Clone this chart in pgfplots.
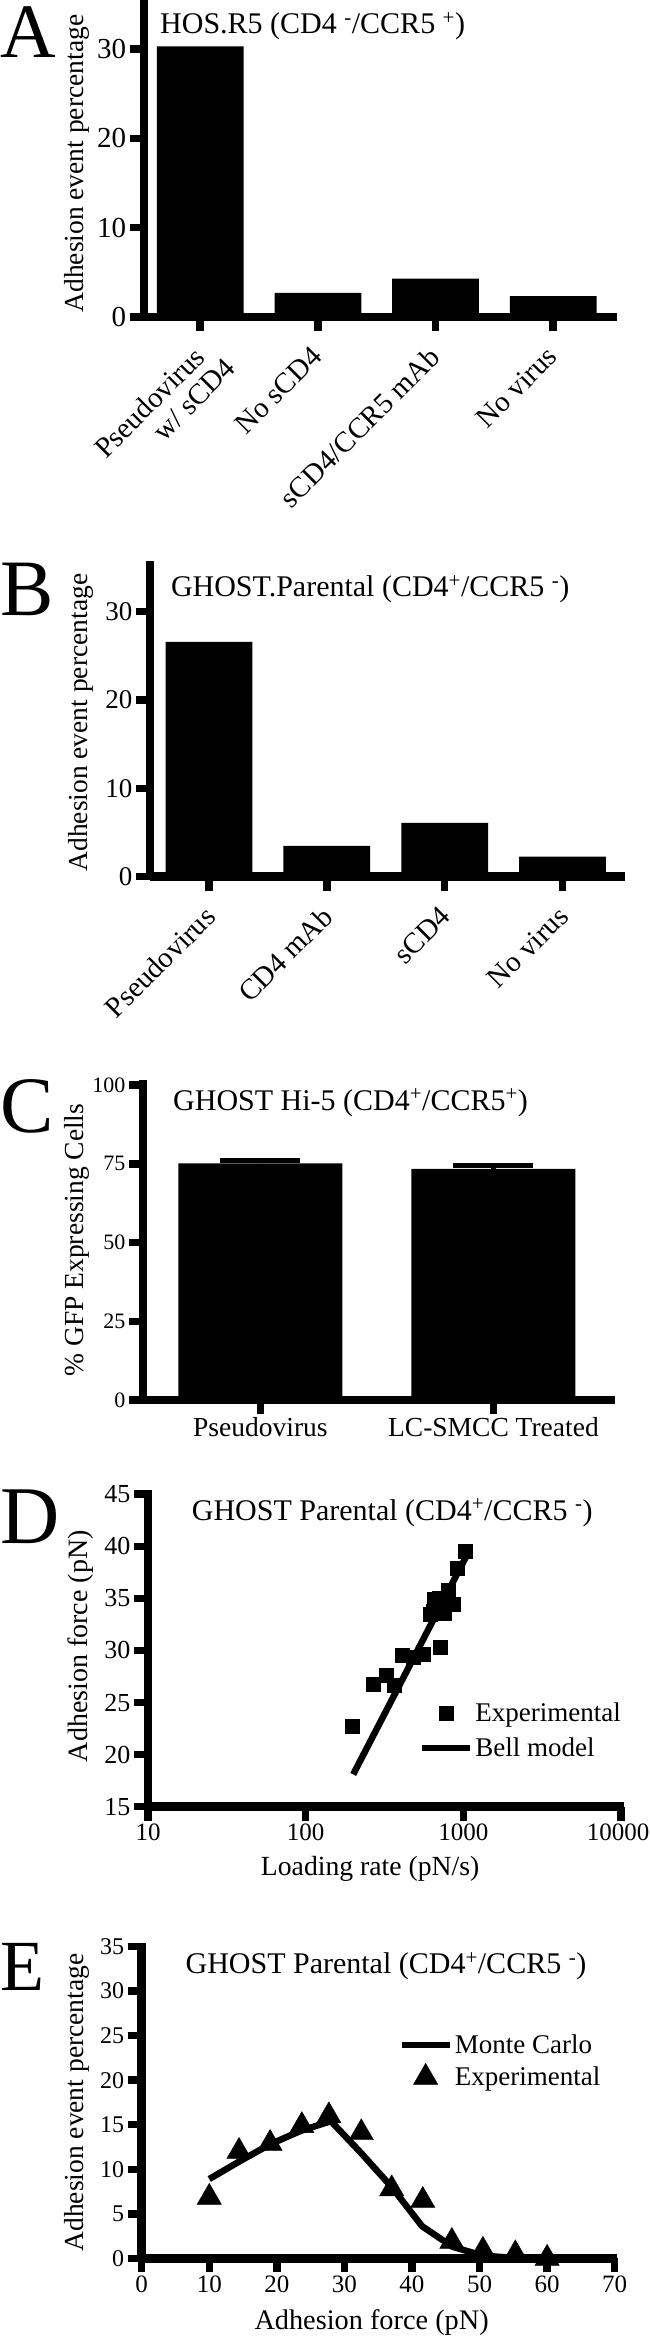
\documentclass[border=0pt]{standalone}
\usepackage{fontspec}
\setmainfont{Liberation Serif}
\usepackage{pgfplots}
\pgfplotsset{compat=1.18}

\newcommand{\fs}[1]{\fontsize{#1}{#1}\selectfont}

\pgfplotsset{
  prism/.style={
    scale only axis,
    anchor=south west,
    axis x line*=bottom,
    axis y line*=left,
    xtick pos=bottom,
    ytick pos=left,
    axis line style={line width=8.5pt,-},
    tick align=outside,
    major tick length=14pt,
    tick style={line width=7.5pt,black},
    clip=false,
    axis on top,
    enlargelimits=false,
    /pgf/number format/assume math mode=true,
    ylabel style={anchor=center},
  },
}

\begin{document}
\begin{tikzpicture}
\path[use as bounding box] (0pt,0pt) rectangle (650pt,-2339pt);

% ---------------- A
\begin{axis}[prism,
  at={(143.75pt,-317pt)}, width=473pt, height=317pt,
  xmin=-0.48, xmax=3.54, ymin=0, ymax=35.5,
  xtick={0,1,2,3}, ytick={0,10,20,30},
  xticklabels={{Pseudovirus\\w/ sCD4\hspace*{-14pt}},No sCD4,sCD4/CCR5 mAb,No virus},
  xticklabel style={xshift=-8pt, yshift=-9pt, rotate=45, anchor=north east,
    align=right, font=\fs{29}},
  yticklabel style={font=\fs{29}},
  ylabel={Adhesion event percentage},
  ylabel style={at={(axis description cs:-0.141,0.484)}, font=\fs{27.5}},
]
\addplot[ybar, bar width=0.737, fill=black, draw=none]
  coordinates {(0,30.3) (1,2.7) (2,4.3) (3,2.35)};
\end{axis}
\node[anchor=base west, inner sep=0pt, font=\fs{77}] at (0pt,-58pt) {A};
\node[anchor=base west, inner sep=0pt, font=\fs{30}] at (160pt,-33.3pt)
  {HOS.R5 (CD4 \textsuperscript{-}/CCR5 \textsuperscript{+})};

% ---------------- B
\begin{axis}[prism,
  at={(150pt,-876.7pt)}, width=475pt, height=315.7pt,
  xmin=-0.5, xmax=3.53, ymin=0, ymax=35.7,
  xtick={0,1,2,3}, ytick={0,10,20,30},
  xticklabels={Pseudovirus,CD4 mAb,sCD4,No virus},
  xticklabel style={xshift=-6pt, yshift=-9pt, rotate=45, anchor=north east,
    font=\fs{29}},
  yticklabel style={font=\fs{27}},
  ylabel={Adhesion event percentage},
  ylabel style={at={(axis description cs:-0.145,0.488)}, font=\fs{27.5}},
]
\addplot[ybar, bar width=0.736, fill=black, draw=none]
  coordinates {(0,26.55) (1,3.5) (2,6.1) (3,2.26)};
\end{axis}
\node[anchor=base west, inner sep=0pt, font=\fs{80}] at (0pt,-615pt) {B};
\node[anchor=base west, inner sep=0pt, font=\fs{30}] at (170.8pt,-596.7pt)
  {GHOST.Parental (CD4\textsuperscript{+}/CCR5 \textsuperscript{-})};

% ---------------- C
\begin{axis}[prism,
  at={(143pt,-1400pt)}, width=471.6pt, height=320pt,
  xmin=-0.504, xmax=1.52, ymin=0, ymax=101.6,
  xtick={0,1}, ytick={0,25,50,75,100},
  xticklabels={Pseudovirus,LC-SMCC Treated},
  xticklabel style={font=\fs{27.5}},
  yticklabel style={font=\fs{22}},
  ylabel={\% GFP Expressing Cells},
  ylabel style={at={(axis description cs:-0.14,0.5)}, font=\fs{27.5}},
]
\addplot[ybar, bar width=0.704, fill=black, draw=none,
  error bars/.cd, y dir=plus, y explicit,
  error bar style={line width=5pt, black},
  error mark options={rotate=90, line width=5pt, mark size=40pt, black}]
  coordinates {(0,75.1) +- (0,0.9) (1,73.4) +- (0,1.1)};
\end{axis}
\node[anchor=base west, inner sep=0pt, font=\fs{80}] at (0pt,-1132pt) {C};
\node[anchor=base west, inner sep=0pt, font=\fs{30}] at (173pt,-1110pt)
  {GHOST Hi-5 (CD4\textsuperscript{+}/CCR5\textsuperscript{+})};

% ---------------- D
\begin{axis}[prism,
  at={(148pt,-1806.7pt)}, width=475.75pt, height=316.7pt,
  xmode=log, xmin=10, xmax=10400, ymin=15, ymax=45.4,
  xtick={10,100,1000,10000}, xticklabels={10,100,1000,{10000\hspace*{6pt}}},
  xminorticks=false,
  ytick={15,20,25,30,35,40,45},
  xticklabel style={font=\fs{25}},
  yticklabel style={font=\fs{26}},
  xlabel={Loading rate (pN/s)},
  xlabel style={at={(axis description cs:0.467,-0.2157)}, anchor=base, font=\fs{27.7}},
  ylabel={Adhesion force (pN)},
  ylabel style={at={(axis description cs:-0.141,0.507)}, font=\fs{28}},
  legend style={at={(axis description cs:0.569,0.335)}, anchor=north west,
    draw=none, fill=none, inner sep=0pt, font=\fs{27}, row sep=11pt,
    nodes={inner sep=2pt}},
  legend cell align=left,
  legend image code/.code={\draw[mark repeat=2, mark phase=2, #1]
    plot coordinates {(0pt,0pt) (24pt,0pt) (48pt,0pt)};},
]
\addplot[only marks, mark=square*, mark size=7pt, black]
  coordinates {(197,22.75) (268,26.8) (322,27.6) (363,26.7) (410,29.5)
    (478,29.4) (557,29.65) (617,33.5) (640,33.8) (657,34.9) (700,35.0)
    (711,30.35) (756,33.55) (760,34.0) (805,35.8) (867,34.45) (910,37.9)
    (1028,39.5)};
\addlegendentry{Experimental}
\addplot[line width=6.5pt, black, no marks]
  coordinates {(200,18.1) (1040,39.0)};
\addlegendentry{Bell model}
\end{axis}
\node[anchor=base west, inner sep=0pt, font=\fs{82}] at (0pt,-1543pt) {D};
\node[anchor=base west, inner sep=0pt, font=\fs{30}] at (191.7pt,-1520pt)
  {GHOST Parental (CD4\textsuperscript{+}/CCR5 \textsuperscript{-})};

% ---------------- E
\begin{axis}[prism,
  at={(141.7pt,-2258.3pt)}, width=475pt, height=315.3pt,
  xmin=0, xmax=70.3, ymin=0, ymax=35.4,
  xtick={0,10,20,30,40,50,60,70}, ytick={0,5,10,15,20,25,30,35},
  xticklabel style={font=\fs{25}},
  yticklabel style={font=\fs{24}},
  xlabel={Adhesion force (pN)},
  xlabel style={at={(axis description cs:0.484,-0.227)}, anchor=base, font=\fs{28.3}},
  ylabel={Adhesion event percentage},
  ylabel style={at={(axis description cs:-0.136,0.494)}, font=\fs{27.5}},
  legend style={at={(axis description cs:0.54,0.715)}, anchor=north west,
    draw=none, fill=none, inner sep=0pt, font=\fs{27}, row sep=6pt,
    nodes={inner sep=2pt}},
  legend cell align=left,
  legend image code/.code={\draw[mark repeat=2, mark phase=2, #1]
    plot coordinates {(0pt,0pt) (24pt,0pt) (48pt,0pt)};},
]
\addplot[line width=6.5pt, black, no marks, line join=round]
  coordinates {(10,8.9) (14.5,10.9) (19,12.8) (23.5,14.3) (28,15.4)
    (32.5,11.8) (37,8.0) (41.5,3.6) (46,1.3) (50.5,0.3) (55,0.05)};
\addlegendentry{Monte Carlo}
\addplot[only marks, mark=triangle*, mark size=14pt, black]
  coordinates {(10,6.85) (14.4,12.0) (19,12.9) (23.7,14.9) (27.7,16.0)
    (32.5,14.1) (37,7.8) (41.6,6.5) (45.9,1.9) (50.5,0.9) (55.3,0.5)
    (60,0.0)};
\addlegendentry{Experimental}
\end{axis}
\node[anchor=base west, inner sep=0pt, font=\fs{72}] at (0pt,-1990pt) {E};
\node[anchor=base west, inner sep=0pt, font=\fs{30}] at (185.4pt,-1973.3pt)
  {GHOST Parental (CD4\textsuperscript{+}/CCR5 \textsuperscript{-})};
\end{tikzpicture}
\end{document}
